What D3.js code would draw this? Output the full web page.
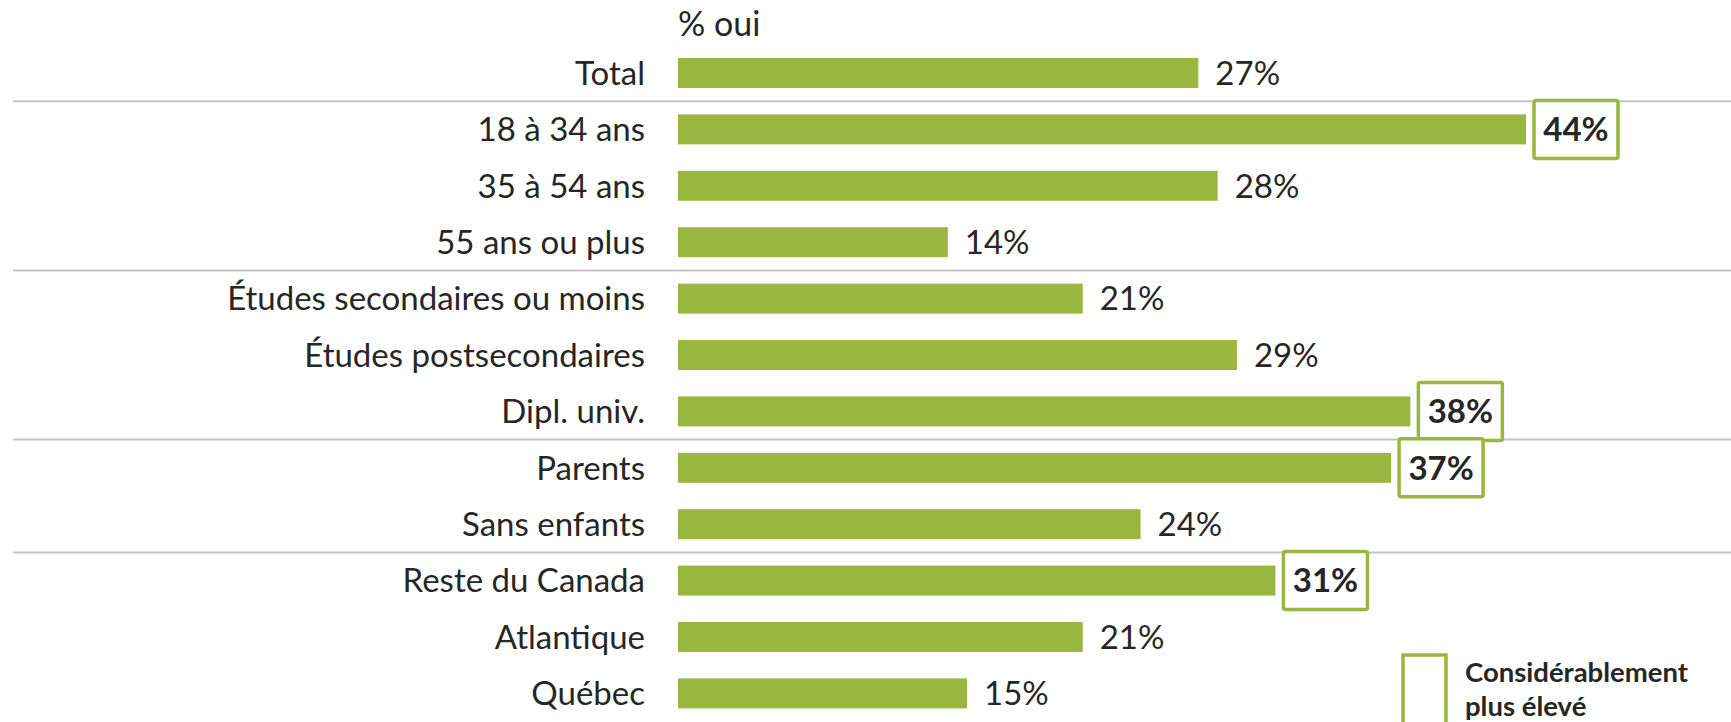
<!DOCTYPE html>
<html><head><meta charset="utf-8">
<script src="https://cdn.jsdelivr.net/npm/d3@7"></script>
<style>
html,body{margin:0;padding:0;background:#fff;}
svg{display:block;font-family:Lato,"Open Sans",sans-serif;}
</style></head>
<body>
<svg id="chart" width="1731" height="722"></svg>
<script>
const categories = ["Total","18 à 34 ans","35 à 54 ans","55 ans ou plus","Études secondaires ou moins","Études postsecondaires","Dipl. univ.","Parents","Sans enfants","Reste du Canada","Atlantique ","Québec"];
const values = [27,44,28,14,21,29,38,37,24,31,21,15];
const highlighted = [false,true,false,false,false,false,true,true,false,true,false,false];
const groupBreaks = ["Total","55 ans ou plus","Dipl. univ.","Sans enfants"]; // separator after these
const axisTitle = "% oui";
const legendLines = ["Considérablement","plus élevé"];

const green = "#99b63e";
const ink = "#262626";
const svg = d3.select("#chart");

const y = d3.scaleBand().domain(categories).range([44.8, 721.6]).padding(0);
const x = d3.scaleLinear().domain([0, 44]).range([678, 1526]);
const barH = 30;

// separators
svg.append("g").selectAll("line").data(groupBreaks).join("line")
  .attr("x1", 13).attr("x2", 1731)
  .attr("y1", d => y(d) + y.bandwidth()).attr("y2", d => y(d) + y.bandwidth())
  .attr("stroke", "#c4c4c4").attr("stroke-width", 2);

// title
svg.append("text").attr("x", 678).attr("y", 36).attr("font-size", 34).attr("fill", ink).text(axisTitle);

// category labels
svg.append("g").selectAll("text").data(categories).join("text")
  .attr("x", 645).attr("y", d => y(d) + y.bandwidth()/2)
  .attr("dy", "0.36em").attr("text-anchor", "end")
  .attr("font-size", 33).attr("fill", ink).text(d => d);

const data = categories.map((c,i)=>({c, v: values[i], h: highlighted[i]}));

// bars
svg.append("g").selectAll("rect").data(data).join("rect")
  .attr("x", x(0)).attr("y", d => y(d.c) + y.bandwidth()/2 - barH/2)
  .attr("width", d => x(d.v) - x(0)).attr("height", barH)
  .attr("fill", green);

// highlight boxes
const boxW = 84, boxH = 58;
svg.append("g").selectAll("rect").data(data.filter(d=>d.h)).join("rect")
  .attr("x", d => x(d.v) + 8).attr("y", d => y(d.c) + y.bandwidth()/2 - boxH/2)
  .attr("width", boxW).attr("height", boxH).attr("rx", 2)
  .attr("fill", "#fff").attr("stroke", green).attr("stroke-width", 3.5);

// value labels
svg.append("g").selectAll("text").data(data).join("text")
  .attr("x", d => d.h ? x(d.v) + 8 + boxW/2 : x(d.v) + 17)
  .attr("y", d => y(d.c) + y.bandwidth()/2)
  .attr("dy", "0.36em")
  .attr("text-anchor", d => d.h ? "middle" : "start")
  .attr("font-size", 33).attr("font-weight", d => d.h ? 700 : 400)
  .attr("fill", ink).text(d => d.v + "%");

// legend
svg.append("rect").attr("x", 1403).attr("y", 655).attr("width", 43).attr("height", 90)
  .attr("fill", "none").attr("stroke", green).attr("stroke-width", 3.5);
svg.append("g").selectAll("text").data(legendLines).join("text")
  .attr("x", 1465).attr("y", (d,i) => 682 + i*34)
  .attr("font-size", 27.5).attr("font-weight", 700).attr("fill", ink).text(d => d);
</script>
</body></html>
